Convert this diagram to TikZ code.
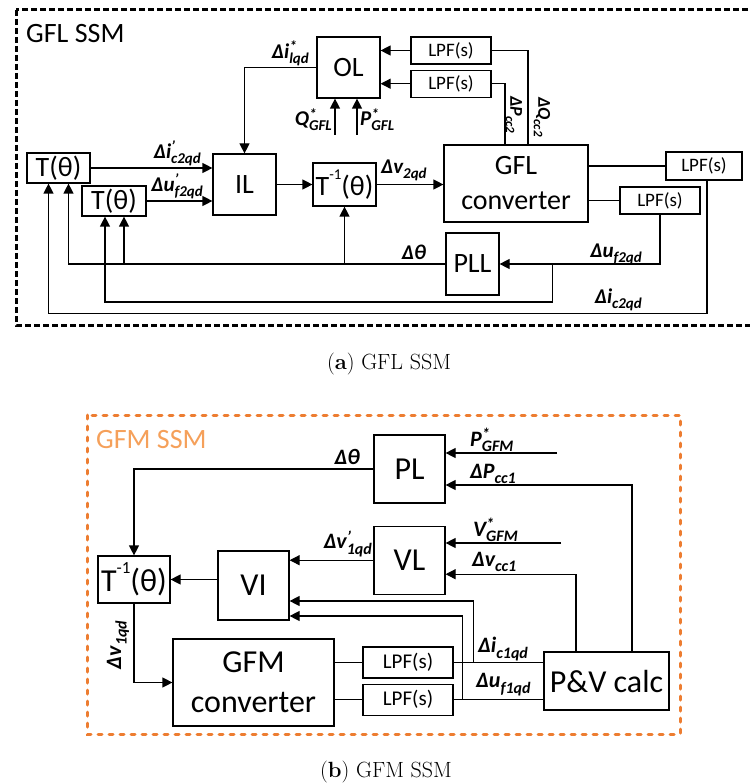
\documentclass[tikz,border=0pt]{standalone}
\usepackage{fontspec}
\setsansfont{Carlito}
\usetikzlibrary{arrows.meta,positioning}
\definecolor{gfmorange}{HTML}{ED7D31}
\definecolor{gfmtitle}{HTML}{F5A05A}
% main symbol, raised mark, subscript
\newcommand{\qd}[4][15]{#2\rlap{\raisebox{.3em}{\fontsize{#1}{#1}\selectfont #3}}\raisebox{-.25em}{\fontsize{#1}{#1}\selectfont #4}}
\newcommand{\tinvtxt}[1]{T\raisebox{.55em}{\fontsize{#1}{#1}\selectfont -1}(θ)}
\begin{document}
\begin{tikzpicture}[x=1pt,y=-1pt,
  font=\sffamily,
  blk/.style={draw,line width=1.2pt,inner sep=0pt,align=center,
    font=\sffamily\fontsize{28}{35}\selectfont},
  bblk/.style={blk,font=\sffamily\fontsize{32}{40}\selectfont},
  lpf/.style={draw,line width=1.2pt,inner sep=0pt,minimum width=80pt,
    minimum height=27pt,font=\sffamily\fontsize{19}{20}\selectfont},
  blpf/.style={lpf,minimum width=90pt,minimum height=31pt,
    font=\sffamily\fontsize{21}{22}\selectfont},
  lbl/.style={inner sep=0pt,font=\sffamily\bfseries\itshape\fontsize{21}{23}\selectfont},
  blbl/.style={lbl,font=\sffamily\bfseries\itshape\fontsize{22}{24}\selectfont},
  ln/.style={line width=1.2pt},
  arr/.style={ln,-{Triangle[length=10pt,width=10pt]}},
]
\useasboundingbox (0,0) rectangle (749,783);

% ---------------- GFL SSM ----------------
\draw[line width=3pt,dash pattern=on 6pt off 3pt] (16,10) rectangle (760,325);
\node[anchor=base west,inner sep=0pt,font=\sffamily\fontsize{28}{30}\selectfont] (gfltitle) at (26,43) {GFL SSM};

\node[blk,minimum width=63pt,minimum height=61pt] (ol) at (348.5,67.5) {OL};
\node[lpf] (lpfq) at (451,50.5) {LPF(s)};
\node[lpf,below=5pt of lpfq] (lpfp) {LPF(s)};
\node[blk,minimum width=63pt,minimum height=61pt] (il) at (244.5,184.5) {IL};
\node[blk,minimum width=63pt,minimum height=30pt] (tc) at (58.5,168) {T(θ)};
\node[blk,minimum width=64pt,minimum height=30pt] (tu) at (114,201) {T(θ)};
\node[blk,minimum width=63pt,minimum height=43pt] (tinv) at (344.5,184.5) {\tinvtxt{15}};
\node[blk,minimum width=144pt,minimum height=77pt] (conv) at (516,183.5) {GFL\\converter};
\node[lpf,minimum width=76pt,minimum height=28pt] (lpfi) at (704,166) {LPF(s)};
\node[lpf] (lpfu) at (660,200.5) {LPF(s)};
\node[blk,minimum width=53pt,minimum height=62pt] (pll) at (472.5,264) {PLL};

\coordinate (qin) at (335,135);
\coordinate (pin) at (357,135);
\coordinate (tca) at ([xshift=-10pt]tc.south);
\coordinate (tcb) at ([xshift=10pt]tc.south);
\coordinate (tua) at ([xshift=-9pt]tu.south);
\coordinate (tub) at ([xshift=10pt]tu.south);
\coordinate (jn) at ([xshift=53pt]pll.east);

\draw[arr] (lpfq.west) -- (lpfq.west -| ol.east);
\draw[arr] (lpfp.west) -- (lpfp.west -| ol.east);
\draw[ln] ([xshift=12pt]conv.north) |- (lpfq.east);
\draw[ln] ([xshift=-11pt]conv.north) |- (lpfp.east);
\draw[arr] (qin) -- (qin |- ol.south);
\draw[arr] (pin) -- (pin |- ol.south);
\draw[arr] (ol.west) -| (il.north);
\draw[arr] (tc.east) -- (tc.east -| il.west);
\draw[arr] (tu.east) -- (tu.east -| il.west);
\draw[arr] (il.east) -- (tinv.west);
\draw[arr] (tinv.east) -- (tinv.east -| conv.west);
\draw[ln] (lpfi.west -| conv.east) -- (lpfi.west);
\draw[ln] (lpfu.west -| conv.east) -- (lpfu.west);
\draw[arr] (lpfu.south) |- (pll.east);
\draw[arr] (jn) -- ++(0,38) -| (tua);
\draw[arr] (pll.west) -| (tcb);
\draw[arr] (tub |- pll.west) -- (tub);
\draw[arr] (tinv.south |- pll.west) -- (tinv.south);
\draw[arr] ([xshift=3pt]lpfi.south) -- ++(0,133) -| (tca);

\node[lbl,anchor=south east] (lilqd) at (309,66) {\qd{Δi}{*}{lqd}};
\node[lbl,anchor=south east] (lqgfl) at (332,131) {\qd{Q}{*}{GFL}};
\node[lbl,anchor=south west] (lpgfl) at (360,131) {\qd{P}{*}{GFL}};
\node[lbl,anchor=south east] (lic) at (201,166) {\qd{Δi}{’}{c2qd}};
\node[lbl,anchor=south east] (luf) at (203,199) {\qd{Δu}{’}{f2qd}};
\node[lbl,anchor=south west] (lv2) at (381,181) {\qd{Δv}{}{2qd}};
\node[lbl,rotate=-90,font=\sffamily\bfseries\itshape\fontsize{18}{20}\selectfont] (lpcc) at (514,115) {\qd[13]{ΔP}{}{cc2}};
\node[lbl,rotate=-90,font=\sffamily\bfseries\itshape\fontsize{18}{20}\selectfont] (lqcc) at (542,117) {\qd[13]{ΔQ}{}{cc2}};
\node[lbl,anchor=south east] (lufb) at (642,265) {\qd{Δu}{}{f2qd}};
\node[lbl,anchor=south] (lth) at (414,260) {Δθ};
\node[lbl,anchor=south east] (licb) at (642,311) {\qd{Δi}{}{c2qd}};

\node[anchor=base,inner sep=0pt,font=\rmfamily\fontsize{22}{24}\selectfont] (capa) at (389,369) {(\textbf{a}) GFL SSM};

% ---------------- GFM SSM ----------------
\draw[gfmorange,line width=3pt,line cap=round,dash pattern=on 4pt off 7pt] (87,415) rectangle (680,734);
\node[anchor=base west,inner sep=0pt,text=gfmtitle,font=\sffamily\fontsize{28}{30}\selectfont] (gfmtitle) at (96,448) {GFM SSM};

\node[bblk,minimum width=71pt,minimum height=68pt] (pl) at (409.5,469) {PL};
\node[bblk,minimum width=71pt,minimum height=68pt,below=22pt of pl] (vl) {VL};
\node[bblk,minimum width=71pt,minimum height=69pt] (vi) at (253.5,585.5) {VI};
\node[bblk,minimum width=72pt,minimum height=47pt] (ti2) at (134,579.5) {\tinvtxt{17}};
\node[bblk,minimum width=161pt,minimum height=87pt] (gfm) at (253.5,682.5) {GFM\\converter};
\node[blpf] (lpf1) at (408,662.5) {LPF(s)};
\node[blpf,below=5pt of lpf1] (lpf2) {LPF(s)};
\node[bblk,minimum width=125pt,minimum height=58pt] (pv) at (606.5,681) {P\&V calc};

\coordinate (pgfm) at (557,453);
\coordinate (vgfm) at (561,543);

\draw[arr] (pgfm) -- (pgfm -| pl.east);
\draw[arr] ([xshift=25.5pt]pv.north) |- ([yshift=-16pt]pl.east);
\draw[arr] (vgfm) -- (vgfm -| vl.east);
\draw[arr] ([xshift=-30.5pt]pv.north) |- ([yshift=-14pt]vl.east);
\draw[arr] (vl.west) -- (vl.west -| vi.east);
\draw[arr] (ti2.east -| vi.west) -- (ti2.east);
\draw[arr] (pl.west) -| (ti2.north);
\draw[arr] (ti2.south) |- (gfm.west);
\draw[ln] (lpf1.west -| gfm.east) -- (lpf1.west);
\draw[ln] (lpf2.west -| gfm.east) -- (lpf2.west);
\draw[ln] (lpf1.east) -- (lpf1.east -| pv.west);
\draw[ln] (lpf2.east) -- (lpf2.east -| pv.west);
\draw[arr] ([xshift=20pt]lpf1.east) |- ([yshift=-15.5pt]vi.east);
\draw[arr] ([xshift=9pt]lpf2.east) |- ([yshift=-30.5pt]vi.east);

\node[blbl,anchor=south west] (lpgfm) at (470,452) {\qd[16]{P}{*}{GFM}};
\node[blbl,anchor=south west] (lpcc1) at (470,484) {\qd[16]{ΔP}{}{cc1}};
\node[blbl,anchor=south west] (lvgfm) at (473,542) {\qd[16]{V}{*}{GFM}};
\node[blbl,anchor=south west] (lvcc1) at (472,572) {\qd[16]{Δv}{}{cc1}};
\node[blbl,anchor=south east] (lv1p) at (372,557) {\qd[16]{Δv}{’}{1qd}};
\node[blbl,anchor=south east] (lth2) at (360,465) {Δθ};
\node[blbl,rotate=90] (lv1) at (118,645) {\qd[16]{Δv}{}{1qd}};
\node[blbl,anchor=south west] (lic1) at (478,661) {\qd[16]{Δi}{}{c1qd}};
\node[blbl,anchor=south west] (luf1) at (476,696) {\qd[16]{Δu}{}{f1qd}};

\node[anchor=base,inner sep=0pt,font=\rmfamily\fontsize{22}{24}\selectfont] (capb) at (386,777) {(\textbf{b}) GFM SSM};
\end{tikzpicture}
\end{document}
